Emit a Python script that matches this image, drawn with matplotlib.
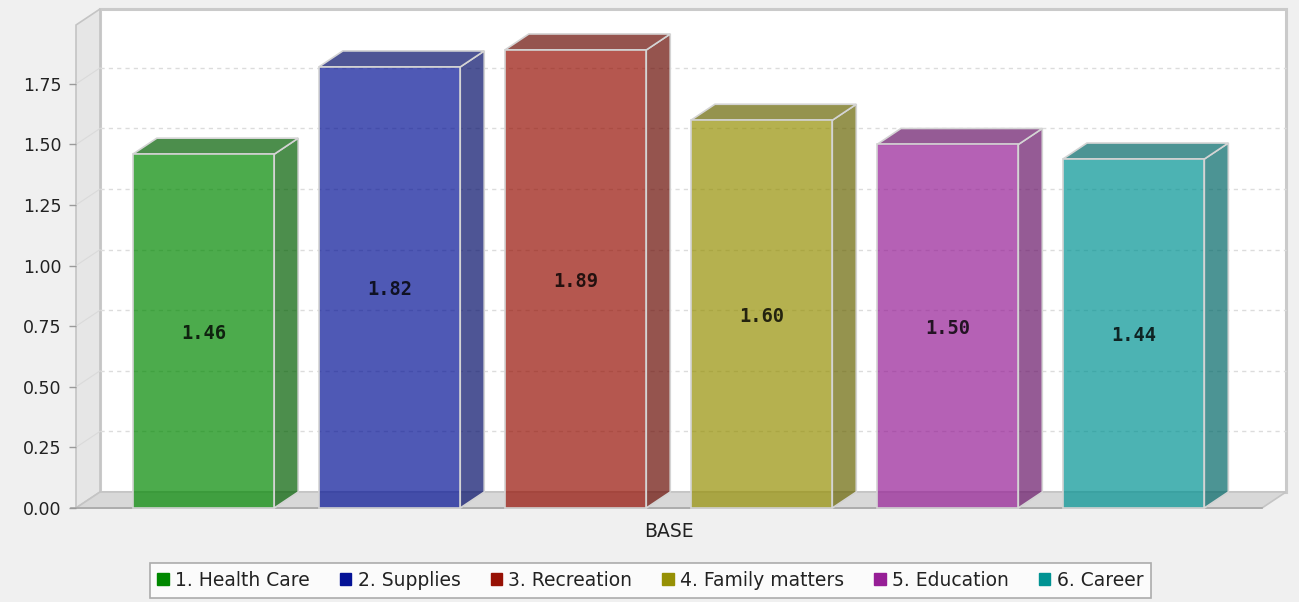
import matplotlib
matplotlib.use("Agg")
import matplotlib.pyplot as plt
from matplotlib.patches import Polygon, Patch
from matplotlib.colors import to_rgba
import numpy as np

plt.rcParams['font.family'] = ['DejaVu Sans']

# ---- data ----
series = ["1. Health Care", "2. Supplies", "3. Recreation",
          "4. Family matters", "5. Education", "6. Career"]
values = [1.46, 1.82, 1.89, 1.60, 1.50, 1.44]
category = "BASE"
yticks = [0.00, 0.25, 0.50, 0.75, 1.00, 1.25, 1.50, 1.75]
colors = ["#008800", "#041296", "#961004", "#969004", "#961e96", "#009393"]

# ---- style constants ----
ALPHA = 0.7
BAR_W = 0.76
DX, DY = 0.129, 0.066          # 3D depth offset in data units
XMIN, XMAX = -0.6855, 5.69
YMAX = 1.993

fig = plt.figure(figsize=(12.99, 6.02), dpi=100, facecolor="#f0f0f0")
W, H = 1299, 602
ax = fig.add_axes([76 / W, (H - 508) / H, (1262 - 76) / W, (508 - 25) / H])
ax.set_xlim(XMIN, XMAX)
ax.set_ylim(0, YMAX)
ax.set_facecolor("none")
for s in ax.spines.values():
    s.set_visible(False)


def poly(pts, **kw):
    p = Polygon(pts, closed=True, clip_on=False, **kw)
    ax.add_patch(p)
    return p


# back wall
poly([(XMIN + DX, DY), (XMAX + DX, DY), (XMAX + DX, YMAX + DY), (XMIN + DX, YMAX + DY)],
     facecolor="white", edgecolor="#cacaca", linewidth=2.2, zorder=0)
# left wall
poly([(XMIN, 0), (XMIN + DX, DY), (XMIN + DX, YMAX + DY), (XMIN, YMAX)],
     facecolor="#e6e6e6", edgecolor="#c4c4c4", linewidth=1.2, zorder=0.5)
# floor
poly([(XMIN, 0), (XMAX, 0), (XMAX + DX, DY), (XMIN + DX, DY)],
     facecolor="#d8d8d8", edgecolor="#c4c4c4", linewidth=1.2, zorder=0.5)

# gridlines on the back wall and the left wall
for t in yticks[1:]:
    ax.plot([XMIN + DX, XMAX + DX], [t + DY, t + DY], color="#dcdcdc",
            linewidth=1, linestyle=(0, (3, 3)), clip_on=False, zorder=1)
    ax.plot([XMIN, XMIN + DX], [t, t + DY], color="#dadada",
            linewidth=0.8, clip_on=False, zorder=1)

# front axis line along the floor edge
ax.plot([XMIN - 0.027, XMAX], [0, 0], color="#a8a8a8", linewidth=1.2,
        clip_on=False, zorder=1.5)

# bars
x = np.arange(len(values))
edge = "#d4d4d4"
for xi, v, c in zip(x, values, colors):
    r, g, b, _ = to_rgba(c)
    dark = (r * 0.7, g * 0.7, b * 0.7, ALPHA)
    l, rr = xi - BAR_W / 2, xi + BAR_W / 2
    # side face
    poly([(rr, 0), (rr + DX, DY), (rr + DX, v + DY), (rr, v)],
         facecolor=dark, edgecolor=edge, linewidth=1.2, zorder=2)
    # top face
    poly([(l, v), (rr, v), (rr + DX, v + DY), (l + DX, v + DY)],
         facecolor=dark, edgecolor=edge, linewidth=1.2, zorder=2)
ax.bar(x, values, width=BAR_W, color=[to_rgba(c, ALPHA) for c in colors],
       edgecolor=edge, linewidth=1.2, zorder=3, clip_on=False)

# value labels
for xi, v in zip(x, values):
    ax.text(xi, v / 2 - 0.01, f"{v:.2f}", ha="center", va="center",
            fontsize=13.5, fontweight="bold", family="DejaVu Sans Mono",
            color="black", alpha=0.8, zorder=4)

# axes ticks
ax.set_yticks(yticks)
ax.set_yticklabels([f"{t:.2f}" for t in yticks])
ax.tick_params(axis="y", length=5, width=1, color="#9a9a9a", pad=5.5,
               labelsize=12.5, labelcolor="#222222")
ax.set_xticks([(XMIN + XMAX) / 2])
ax.set_xticklabels([category])
ax.tick_params(axis="x", length=0, pad=10, labelsize=13.5, labelcolor="#222222")

# legend
handles = [Patch(facecolor=c, edgecolor=c) for c in colors]
leg = fig.legend(handles, series, loc="center", bbox_to_anchor=(650.5 / W, 1 - 580.5 / H),
                 ncol=6, fontsize=13.5, frameon=True, fancybox=False,
                 handlelength=0.6, handleheight=0.6, handletextpad=0.35,
                 columnspacing=1.6, borderpad=0.42, borderaxespad=0)
leg.get_frame().set_edgecolor("#999999")
leg.get_frame().set_linewidth(1.2)
leg.get_frame().set_facecolor("white")
for t in leg.get_texts():
    t.set_color("#222222")

fig.savefig("out.png", dpi=100, facecolor=fig.get_facecolor())
